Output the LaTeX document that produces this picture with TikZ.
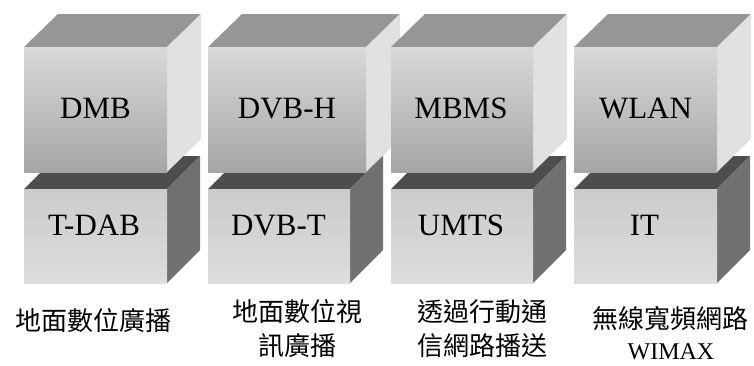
\documentclass[tikz,border=0pt]{standalone}
\usepackage{fontspec}
\setmainfont{Liberation Serif}
\newfontfamily\cjk{Noto Sans CJK TC}
\definecolor{utop}{HTML}{969696}
\definecolor{uside}{HTML}{E1E1E1}
\definecolor{ufrontA}{HTML}{D9D9D9}
\definecolor{ufrontB}{HTML}{BEBEBE}
\definecolor{ufrontC}{HTML}{A6A6A6}
\definecolor{ltop}{HTML}{4D4D4D}
\definecolor{lside}{HTML}{707070}
\definecolor{lfrontA}{HTML}{CBCBCB}
\definecolor{lfrontB}{HTML}{DDDDDD}
\newcommand\upperbox[2]{%
  \fill[utop] (#1,47) -- ({#1+34},14) -- ({#2+34},14) -- (#2,47) -- cycle;
  \fill[uside] (#2,47) -- ({#2+34},14) -- ({#2+34},139) -- (#2,172) -- cycle;
  \shade[top color=ufrontA, middle color=ufrontB, bottom color=ufrontC] (#1,47) rectangle (#2,172);
}
\newcommand\lowerbox[2]{%
  \fill[ltop] (#1,189) -- ({#1+33},156) -- ({#2+33},156) -- (#2,189) -- cycle;
  \fill[lside] (#2,189) -- ({#2+33},156) -- ({#2+33},250) -- (#2,283) -- cycle;
  \shade[top color=lfrontA, bottom color=lfrontB] (#1,189) rectangle (#2,283);
}
\tikzset{
  boxlabel/.style={anchor=base, inner sep=0pt, font=\fontsize{31}{37}\selectfont},
  cjklabel/.style={anchor=center, inner sep=0pt, align=center, font=\cjk\fontsize{26}{34}\selectfont},
  latlabel/.style={anchor=base, inner sep=0pt, font=\fontsize{24}{29}\selectfont}
}
\begin{document}
\begin{tikzpicture}[x=1pt, y=-1pt]
\useasboundingbox (0,0) rectangle (754,365);
% column 1
\lowerbox{24}{167}
\upperbox{24}{167}
% column 2
\lowerbox{208}{350}
\upperbox{208}{366}
% column 3
\lowerbox{391}{533}
\upperbox{391}{533}
% column 4
\lowerbox{574}{717}
\upperbox{574}{717}
% labels
\node[boxlabel] (dmb)  at (95.5,118) {DMB};
\node[boxlabel] (tdab) at (94,235) {T-DAB};
\node[boxlabel] (dvbh) at (287,118) {DVB-H};
\node[boxlabel] (dvbt) at (278.5,235) {DVB-T};
\node[boxlabel] (mbms) at (461,118) {MBMS};
\node[boxlabel] (umts) at (461,235) {UMTS};
\node[boxlabel] (wlan) at (645.5,118) {WLAN};
\node[boxlabel] (it)   at (644.5,235) {IT};
\node[cjklabel] (c1) at (93,321) {地面數位廣播};
\node[cjklabel] (c2) at (297,329) {地面數位視\\訊廣播};
\node[cjklabel] (c3) at (482,329) {透過行動通\\信網路播送};
\node[cjklabel] (c4) at (670.5,319) {無線寬頻網路};
\node[latlabel] (wimax) at (671,359) {WIMAX};
\end{tikzpicture}
\end{document}
